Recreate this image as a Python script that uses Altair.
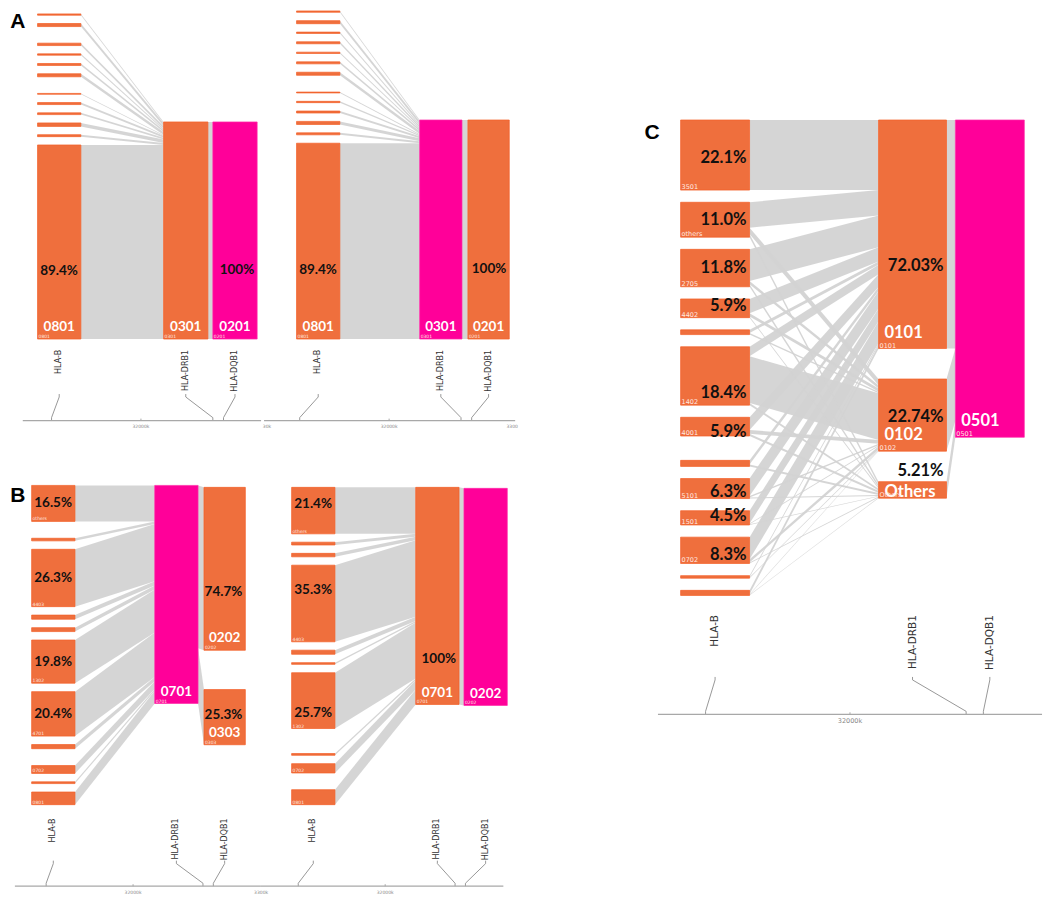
import altair as alt
import pandas as pd

# ---------------- data ----------------
GENES = ["HLA-B", "HLA-DRB1", "HLA-DQB1"]
GENE_POS_KB = [31321, 32546, 32627]
AXIS_TICK_KB = 32000
AXIS_TICK_LABEL = "32000k"

# Panel A, left population (HLA-B alleles top -> bottom, 0 = empty slot)
A1_B_NAMES = ["", "", "", "", "", "", "", "", "", "", "", "", "", "0801"]
A1_B_FREQ = [0.6, 1.4, 0, 1.1, 0.6, 0.9, 1.4, 0, 0.4, 0.9, 0.8, 1.6, 0.9, 89.4]
A1_DRB1_NAMES = ["0301"]
A1_DRB1_FREQ = [100]
A1_DQB1_NAMES = ["0201"]
A1_DQB1_FREQ = [100]

# Panel A, right population
A2_B_NAMES = ["", "", "", "", "", "", "", "", "", "", "", "", "", "0801"]
A2_B_FREQ = [0.6, 1.4, 0.6, 0.9, 0.6, 0.9, 1.4, 0, 0.4, 0.6, 0.9, 1.4, 0.9, 89.4]
A2_DRB1_NAMES = ["0301"]
A2_DRB1_FREQ = [100]
A2_DQB1_NAMES = ["0201"]
A2_DQB1_FREQ = [100]

# Panel B, left population
B1_B_NAMES = ["others", "", "", "4403", "", "", "1302", "4701", "", "", "0702", "", "0801"]
B1_B_FREQ = [16.5, 0, 1.2, 26.3, 1.9, 1.8, 19.8, 20.4, 1.9, 0, 3.6, 0.8, 5.8]
B1_DRB1_NAMES = ["0701"]
B1_DRB1_FREQ = [100]
B1_DQB1_NAMES = ["0202", "0303"]
B1_DQB1_FREQ = [74.7, 25.3]
B1_DRB1_TO_DQB1 = [[74.7, 25.3]]

# Panel B, right population
B2_B_NAMES = ["others", "", "", "4403", "", "", "1302", "", "", "", "0702", "", "0801"]
B2_B_FREQ = [21.4, 1.3, 1.6, 35.3, 1.9, 0.8, 25.7, 0, 0, 0.8, 4.3, 0, 6.9]
B2_DRB1_NAMES = ["0701"]
B2_DRB1_FREQ = [100]
B2_DQB1_NAMES = ["0202"]
B2_DQB1_FREQ = [100]

# Panel C
C_B_NAMES = ["3501", "others", "2705", "4402", "", "1402", "4001", "", "", "5101", "1501", "0702", "", ""]
C_B_FREQ = [22.1, 11.0, 11.8, 5.9, 1.5, 18.4, 5.9, 0, 1.9, 6.3, 4.5, 8.3, 0.8, 1.6]
C_DRB1_NAMES = ["0101", "0102", "Others"]
C_DRB1_FREQ = [72.03, 22.74, 5.21]
C_DQB1_NAMES = ["0501"]
C_DQB1_FREQ = [100]
C_B_TO_DRB1 = [
    [22.1, 0, 0],
    [8.0, 2.0, 1.0],
    [10.0, 1.0, 0.8],
    [4.5, 1.0, 0.4],
    [1.0, 0.5, 0.0],
    [3.0, 14.7, 0.7],
    [4.0, 1.2, 0.7],
    [0, 0, 0],
    [1.3, 0, 0.6],
    [5.5, 0.5, 0.3],
    [4.0, 0.3, 0.2],
    [7.0, 1.0, 0.3],
    [0.5, 0.3, 0.0],
    [1.2, 0.2, 0.2],
]
C_DRB1_TO_DQB1 = [[72.03], [22.74], [5.21]]

# ---------------- styles / layout ----------------
ORANGE = "#EF6F3D"
ORANGE_EDGE = "#F45E26"
PINK = "#FF0099"
PINK_EDGE = "#FF2AA8"
GRAY = "#D3D3D3"
W, H = 1036, 889
XS = alt.Scale(domain=[0, 1052], nice=False, zero=False)
YS = alt.Scale(domain=[0, 905], nice=False, zero=False, reverse=True)


def single(freqs):
    return [[f] for f in freqs]


PANELS = [
    dict(names=[A1_B_NAMES, A1_DRB1_NAMES, A1_DQB1_NAMES],
         freqs=[A1_B_FREQ, A1_DRB1_FREQ, A1_DQB1_FREQ],
         m1=single(A1_B_FREQ), m2=[[100]], hl=(2, "0201"),
         cols=[(30, 74), (158, 203), (208, 253)], tops=[6, 116, 116], bottoms=[337, 337, 337], k=2.21,
         big_cols=[0, 1, 2], big_align="center", big_lift=8, fs_pct=13.5, fs_big=13.5, fs_tiny=4.5,
         dec2=False, pct=[(0, "0801", 0.65), (2, "0201", 0.68)],
         label_top=348, conn_top=393, axis_y=420, axis_x=(15, 257), tick_x=135, s=0.1337,
         fs_gene=8, fs_axis=4.5),
    dict(names=[A2_B_NAMES, A2_DRB1_NAMES, A2_DQB1_NAMES],
         freqs=[A2_B_FREQ, A2_DRB1_FREQ, A2_DQB1_FREQ],
         m1=single(A2_B_FREQ), m2=[[100]], hl=(1, "0301"),
         cols=[(293, 337), (418, 461), (467, 509)], tops=[3, 114, 114], bottoms=[337, 337, 337], k=2.23,
         big_cols=[0, 1, 2], big_align="center", big_lift=8, fs_pct=13.5, fs_big=13.5, fs_tiny=4.5,
         dec2=False, pct=[(0, "0801", 0.65), (2, "0201", 0.68)],
         label_top=348, conn_top=393, axis_y=420, axis_x=(260, 515), tick_x=387, s=0.1337,
         fs_gene=8, fs_axis=4.5),
    dict(names=[B1_B_NAMES, B1_DRB1_NAMES, B1_DQB1_NAMES],
         freqs=[B1_B_FREQ, B1_DRB1_FREQ, B1_DQB1_FREQ],
         m1=single(B1_B_FREQ), m2=B1_DRB1_TO_DQB1, hl=(1, "0701"),
         cols=[(24, 68), (149, 193), (199, 241)], tops=[486, 486, 488], bottoms=[811, 708, 750], k=2.22,
         big_cols=[1, 2], big_align="center", big_lift=8, fs_pct=13.5, fs_big=13.5, fs_tiny=4.5,
         dec2=False,
         pct=[(0, "others", 0.5), (0, "4403", 0.5), (0, "1302", 0.5), (0, "4701", 0.5),
              (2, "0202", 0.64), (2, "0303", 0.46)],
         label_top=825, conn_top=868, axis_y=894, axis_x=(7, 256), tick_x=127, s=0.13,
         fs_gene=8, fs_axis=4.5),
    dict(names=[B2_B_NAMES, B2_DRB1_NAMES, B2_DQB1_NAMES],
         freqs=[B2_B_FREQ, B2_DRB1_FREQ, B2_DQB1_FREQ],
         m1=single(B2_B_FREQ), m2=[[100]], hl=(2, "0202"),
         cols=[(288, 332), (414, 458), (463, 507)], tops=[488, 488, 489], bottoms=[811, 709, 711], k=2.21,
         big_cols=[1, 2], big_align="center", big_lift=8, fs_pct=13.5, fs_big=13.5, fs_tiny=4.5,
         dec2=False,
         pct=[(0, "others", 0.36), (0, "4403", 0.32), (0, "1302", 0.73), (1, "0701", 0.79)],
         label_top=825, conn_top=868, axis_y=894, axis_x=(256, 503), tick_x=383, s=0.13,
         fs_gene=8, fs_axis=4.5),
    dict(names=[C_B_NAMES, C_DRB1_NAMES, C_DQB1_NAMES],
         freqs=[C_B_FREQ, C_DRB1_FREQ, C_DQB1_FREQ],
         m1=C_B_TO_DRB1, m2=C_DRB1_TO_DQB1, hl=(2, "0501"),
         cols=[(683, 753), (884, 953), (962, 1032)], tops=[114, 114, 114], bottoms=[598, 499, 437], k=3.23,
         big_cols=[1, 2], big_align="left", big_lift=11, fs_pct=16.5, fs_big=16.5, fs_tiny=6.5,
         dec2=True,
         pct=[(0, "3501", 0.54), (0, "others", 0.51), (0, "2705", 0.49), (0, "4402", 0.4),
              (0, "1402", 0.79), (0, "4001", 0.8), (0, "5101", 0.68), (0, "1501", 0.4),
              (0, "0702", 0.68), (1, "0101", 0.64), (1, "0102", 0.53), (1, "Others", -0.62)],
         label_top=618, conn_top=681, axis_y=719, axis_x=(660, 1050), tick_x=855, s=0.216,
         fs_gene=10.5, fs_axis=6.5),
]

EDGE_AXIS_LABELS = [(263, 427, "30k", 4.5), (512, 427, "3300", 4.5), (257, 901, "3300k", 4.5)]
PANEL_LETTERS = [("A", 10, 14), ("B", 10, 497), ("C", 654, 127)]

# ---------------- build tables ----------------
node_rows, link_rows, pct_rows, big_c, big_l, tiny_rows = [], [], [], [], [], []
gene_rows, conn_rows, axis_rows, tick_rows, ticklab_rows = [], [], [], [], []
lid = 0
for p_i, P in enumerate(PANELS):
    k = P["k"]
    cols_nodes = []
    for c in range(3):
        names, freqs = P["names"][c], P["freqs"][c]
        x0, x1 = P["cols"][c]
        n = len(freqs)
        gap = (P["bottoms"][c] - P["tops"][c] - sum(freqs) * k) / (n - 1) if n > 1 else 0
        y = P["tops"][c]
        col = []
        for i, (nm, f) in enumerate(zip(names, freqs)):
            h = f * k
            hl = (c, nm) == P["hl"]
            nd = dict(panel=p_i, col=c, idx=i, name=nm, freq=f, x0=x0, x1=x1, y0=y, y1=y + h,
                      fill=PINK if hl else ORANGE, edge=PINK_EDGE if hl else ORANGE_EDGE)
            col.append(nd)
            if f > 0:
                node_rows.append(nd)
            y += h + gap
        cols_nodes.append(col)

    # links, straight ribbons
    for c, M in ((0, P["m1"]), (1, P["m2"])):
        src, tgt = cols_nodes[c], cols_nodes[c + 1]
        seg = {}
        for i in range(len(src)):
            off = src[i]["y0"]
            for j in range(len(tgt)):
                v = M[i][j]
                if v > 0:
                    seg[(i, j)] = [off, off + v * k]
                    off += v * k
        for j in range(len(tgt)):
            off = tgt[j]["y0"]
            for i in range(len(src)):
                if (i, j) in seg:
                    v = M[i][j]
                    s0, s1 = seg[(i, j)]
                    link_rows.append(dict(lid=lid, x=src[i]["x1"], yt=s0, yb=s1))
                    link_rows.append(dict(lid=lid, x=tgt[j]["x0"], yt=off, yb=off + v * k))
                    off += v * k
                    lid += 1

    # labels
    lookup = {(nd["col"], nd["name"]): nd for col in cols_nodes for nd in col}
    for c, nm, frac in P["pct"]:
        nd = lookup[(c, nm)]
        f = nd["freq"]
        if f == 100:
            txt = "100%"
        elif P["dec2"] and c > 0:
            txt = f"{f:.2f}%"
        else:
            txt = f"{f:.1f}%"
        pct_rows.append(dict(x=nd["x1"] - 3, y=nd["y0"] + frac * (nd["y1"] - nd["y0"]), text=txt,
                             fs=P["fs_pct"]))
    for col in cols_nodes:
        for nd in col:
            h = nd["y1"] - nd["y0"]
            if nd["name"] and h >= 7:
                tiny_rows.append(dict(x=nd["x0"] + 1, y=nd["y1"] - 1, text=nd["name"], fs=P["fs_tiny"]))
            if nd["name"] and nd["col"] in P["big_cols"] and nd["freq"] > 0:
                yb = nd["y1"] - (P["big_lift"] if h > 30 else 1)
                if P["big_align"] == "center":
                    big_c.append(dict(x=(nd["x0"] + nd["x1"]) / 2, y=yb, text=nd["name"], fs=P["fs_big"]))
                else:
                    big_l.append(dict(x=nd["x0"] + 6, y=yb, text=nd["name"], fs=P["fs_big"]))

    # gene labels, connectors and genomic axis
    ay = P["axis_y"]
    for g, (gene, pos) in enumerate(zip(GENES, GENE_POS_KB)):
        cx = (P["cols"][g][0] + P["cols"][g][1]) / 2
        gx = P["tick_x"] + (pos - AXIS_TICK_KB) * P["s"]
        gene_rows.append(dict(x=cx, y=P["label_top"], text=gene, fs=P["fs_gene"]))
        pts = [(cx, P["conn_top"]), (cx, P["conn_top"] + 3), (gx, ay - 3), (gx, ay)]
        for o, (px, py) in enumerate(pts):
            conn_rows.append(dict(cid=f"{p_i}-{g}", o=o, x=px, y=py))
    axis_rows.append(dict(x0=P["axis_x"][0], x1=P["axis_x"][1], y=ay))
    tick_rows.append(dict(x=P["tick_x"], y0=ay - 2, y1=ay))
    ticklab_rows.append(dict(x=P["tick_x"], y=ay + 7, text=AXIS_TICK_LABEL, fs=P["fs_axis"]))

for x, y, t, fs in EDGE_AXIS_LABELS:
    ticklab_rows.append(dict(x=x, y=y, text=t, fs=fs))
letter_rows = [dict(x=x, y=y, text=t) for t, x, y in PANEL_LETTERS]


def X(f):
    return alt.X(f"{f}:Q", scale=XS, axis=None)


def Y(f):
    return alt.Y(f"{f}:Q", scale=YS, axis=None)


SIZE = alt.Size("fs:Q", scale=None, legend=None)

links = alt.Chart(pd.DataFrame(link_rows)).mark_area(color=GRAY, opacity=0.95, interpolate="linear").encode(
    x=X("x"), y=alt.Y("yt:Q", scale=YS, axis=None, stack=None), y2=alt.Y2("yb:Q"), detail="lid:N")

nodes = alt.Chart(pd.DataFrame(node_rows)).mark_rect(strokeWidth=0.7).encode(
    x=X("x0"), x2=alt.X2("x1:Q"), y=Y("y0"), y2=alt.Y2("y1:Q"),
    color=alt.Color("fill:N", scale=None), stroke=alt.Stroke("edge:N", scale=None))

pct = alt.Chart(pd.DataFrame(pct_rows)).mark_text(
    align="right", baseline="middle", font="Lato", fontWeight="bold", color="#111111").encode(
    x=X("x"), y=Y("y"), text="text:N", size=SIZE)

bigc = alt.Chart(pd.DataFrame(big_c)).mark_text(
    align="center", baseline="alphabetic", font="Lato", fontWeight="bold", color="white").encode(
    x=X("x"), y=Y("y"), text="text:N", size=SIZE)

bigl = alt.Chart(pd.DataFrame(big_l)).mark_text(
    align="left", baseline="alphabetic", font="Lato", fontWeight="bold", color="white").encode(
    x=X("x"), y=Y("y"), text="text:N", size=SIZE)

tiny = alt.Chart(pd.DataFrame(tiny_rows)).mark_text(
    align="left", baseline="alphabetic", font="DejaVu Sans", color="#FFE9E0").encode(
    x=X("x"), y=Y("y"), text="text:N", size=SIZE)

genes = alt.Chart(pd.DataFrame(gene_rows)).mark_text(
    align="right", baseline="middle", angle=270, font="DejaVu Sans", color="#333333").encode(
    x=X("x"), y=Y("y"), text="text:N", size=SIZE)

conns = alt.Chart(pd.DataFrame(conn_rows)).mark_line(color="#8C8C8C", strokeWidth=0.9).encode(
    x=X("x"), y=Y("y"), detail="cid:N", order="o:Q")

axes = alt.Chart(pd.DataFrame(axis_rows)).mark_rule(color="#A8A8A8", strokeWidth=1.2).encode(
    x=X("x0"), x2=alt.X2("x1:Q"), y=Y("y"))

ticks = alt.Chart(pd.DataFrame(tick_rows)).mark_rule(color="#A8A8A8", strokeWidth=1).encode(
    x=X("x"), y=Y("y0"), y2=alt.Y2("y1:Q"))

ticklabs = alt.Chart(pd.DataFrame(ticklab_rows)).mark_text(
    align="center", baseline="middle", font="DejaVu Sans", color="#888888").encode(
    x=X("x"), y=Y("y"), text="text:N", size=SIZE)

letters = alt.Chart(pd.DataFrame(letter_rows)).mark_text(
    align="center", baseline="middle", font="Liberation Sans", fontWeight="bold", fontSize=21,
    color="black").encode(x=X("x"), y=Y("y"), text="text:N")

chart = alt.layer(links, nodes, pct, bigc, bigl, tiny, genes, conns, axes, ticks, ticklabs, letters).properties(
    width=W, height=H, padding=0, autosize=alt.AutoSizeParams(type="none"),
    background="white").configure_view(stroke=None)

chart.save("out.html", embed_options={"renderer": "svg", "actions": False})
